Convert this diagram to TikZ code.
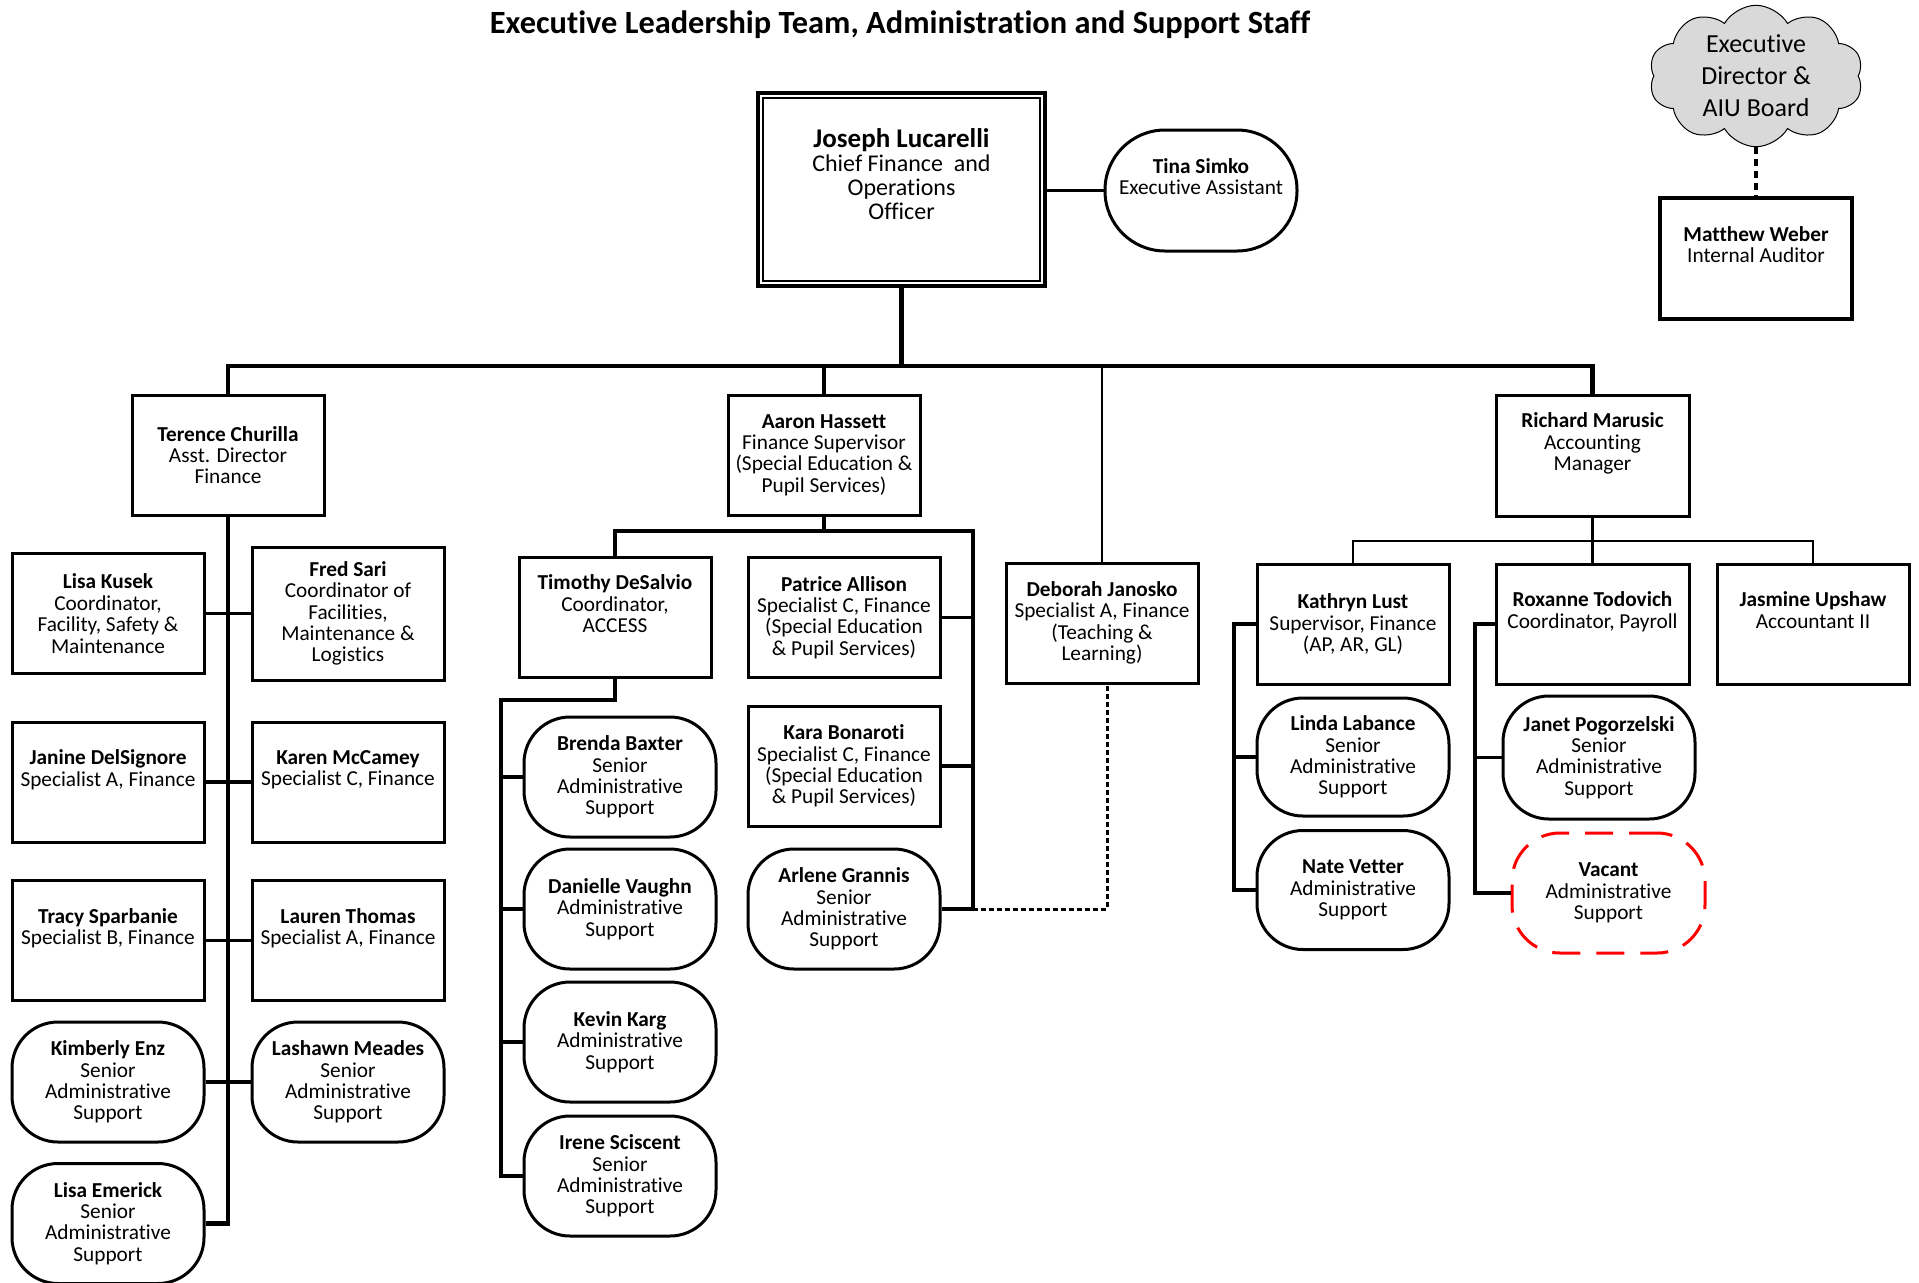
\documentclass[tikz,border=0pt]{standalone}
\usepackage{fontspec}
\setmainfont{Carlito}[Ligatures=NoCommon]
\usetikzlibrary{shapes.symbols}
\tikzset{
  box/.style={draw, line width=1.5pt, minimum width=96pt, minimum height=60pt, align=center, inner sep=1pt, font=\fontsize{10.65}{10.7}\selectfont},
  rbox/.style={box, rounded corners=23pt},
  vbox/.style={rbox, draw=red, dash pattern=on 14pt off 8pt, rounded corners=24pt},
  conn/.style={line width=1.8pt},
  thinconn/.style={line width=1.4pt},
  trunk/.style={line width=2.1pt},
  dotsline/.style={line width=1.5pt, dash pattern=on 2.3pt off 1.7pt},
  dotsbig/.style={line width=2pt, dash pattern=on 3.5pt off 2.5pt},
}
\newcommand{\xstrut}{\\\strut}
\begin{document}
\begin{tikzpicture}[x=0.5pt,y=-0.5pt]
\useasboundingbox (0,0) rectangle (1919,1282);

\node[font=\bfseries\fontsize{16.2}{18}\selectfont] (title) at (900,25) {Executive Leadership Team, Administration and Support Staff};

% top
\node[box, minimum width=143.5pt, minimum height=96.5pt, line width=2pt, font=\fontsize{12}{12}\selectfont] (jl) at (901.5,189.5)
  {{\fontsize{13.5}{12}\selectfont\bfseries Joseph Lucarelli}\\Chief Finance\ \ and\\Operations\\Officer\xstrut};
\draw[line width=0.9pt] ([shift={(3.5pt,-3.5pt)}]jl.north west) rectangle ([shift={(-3.5pt,3.5pt)}]jl.south east);
\node[rbox, rounded corners=30pt, minimum height=60.5pt] (ts) at (1201,190.5) {\textbf{Tina Simko}\\Executive Assistant\xstrut};
\draw[conn] (ts.west -| jl.east) -- (ts.west);

\node[cloud, draw, line width=0.5pt, fill=gray!30, cloud puffs=10, cloud puff arc=120, aspect=1.5, minimum width=107pt, minimum height=70pt, inner sep=0pt, align=center, font=\fontsize{13}{16}\selectfont] (cl) at (1756,76) {Executive\\Director \&\\AIU Board};
\node[box, line width=1.6pt, minimum height=60.5pt] (mw) at (1756,258.5) {\textbf{Matthew Weber}\\Internal Auditor\xstrut};
\draw[dotsbig] (cl.south) -- (mw.north);

% level 2
\node[box] (tc) at (228,455) {\textbf{Terence Churilla}\\Asst. Director\\Finance};
\node[box] (ah) at (824,455) {\textbf{Aaron Hassett}\\Finance Supervisor\\(Special Education \&\\Pupil Services)};
\node[box, minimum width=96.5pt, minimum height=60.5pt] (rm) at (1592.5,455.5) {\textbf{Richard Marusic}\\Accounting\\Manager\xstrut};
\node[box] (dj) at (1102,623) {\textbf{Deborah Janosko}\\Specialist A, Finance\\(Teaching \&\\Learning)};

\coordinate (bus) at (901.5,366);
\draw[trunk] (jl.south) -- (jl.south |- bus);
\draw[trunk] (tc.north) -- (tc.north |- bus) -- (rm.north |- bus) -- (rm.north);
\draw[conn] (ah.north) -- (ah.north |- bus);
\draw[thinconn] (dj.north) -- (dj.north |- bus);

% Terence group
\node[box] (lk) at (108,613.5) {\textbf{Lisa Kusek}\\Coordinator,\\Facility, Safety \&\\Maintenance};
\node[box, minimum height=66.5pt] (fs) at (348,613.5) {\textbf{Fred Sari}\\Coordinator of\\Facilities,\\Maintenance \&\\Logistics};
\node[box] (jd) at (108,782) {\textbf{Janine DelSignore}\\Specialist A, Finance\xstrut};
\node[box] (km) at (348,782) {\textbf{Karen McCamey}\\Specialist C, Finance\xstrut};
\node[box] (tsp) at (108,940.5) {\textbf{Tracy Sparbanie}\\Specialist B, Finance\xstrut};
\node[box] (lt) at (348,940.5) {\textbf{Lauren Thomas}\\Specialist A, Finance\xstrut};
\node[rbox] (ke) at (108,1082) {\textbf{Kimberly Enz}\\Senior\\Administrative\\Support};
\node[rbox] (lm) at (348,1082) {\textbf{Lashawn Meades}\\Senior\\Administrative\\Support};
\node[rbox] (le) at (108,1223.5) {\textbf{Lisa Emerick}\\Senior\\Administrative\\Support};

\draw[trunk] (tc.south) -- (tc.south |- le.east) -- (le.east);
\draw[conn] (lk.east) -- (fs.west);
\draw[conn] (jd.east) -- (km.west);
\draw[conn] (tsp.east) -- (lt.west);
\draw[conn] (ke.east) -- (lm.west);

% Aaron group
\node[box] (td) at (615,617.5) {\textbf{Timothy DeSalvio}\\Coordinator,\\ACCESS\xstrut};
\node[box] (pa) at (844,617.5) {\textbf{Patrice Allison}\\Specialist C, Finance\\(Special Education\\\& Pupil Services)};
\node[box] (kb) at (844,766) {\textbf{Kara Bonaroti}\\Specialist C, Finance\\(Special Education\\\& Pupil Services)};
\node[rbox] (ag) at (844,909) {\textbf{Arlene Grannis}\\Senior\\Administrative\\Support};

\node[rbox] (bb) at (620,777) {\textbf{Brenda Baxter}\\Senior\\Administrative\\Support};
\node[rbox] (dv) at (620,909) {\textbf{Danielle Vaughn}\\Administrative\\Support};
\node[rbox] (kk) at (620,1042) {\textbf{Kevin Karg}\\Administrative\\Support};
\node[rbox] (is) at (620,1176) {\textbf{Irene Sciscent}\\Senior\\Administrative\\Support};

\coordinate (ahb) at (973,531);
\draw[conn] (ah.south) -- (ah.south |- ahb);
\draw[conn] (td.north) -- (td.north |- ahb) -- (ahb) -- (ahb |- ag.east) -- (ag.east);
\draw[conn] (pa.east) -- (pa.east -| ahb);
\draw[conn] (kb.east) -- (kb.east -| ahb);
\draw[dotsline] (ag.east -| ahb) -| ([xshift=2.5pt]dj.south);

\coordinate (tdv) at (501,700);
\draw[conn] (td.south) -- (td.south |- tdv) -- (tdv) -- (tdv |- is.west) -- (is.west);
\draw[conn] (tdv |- bb.west) -- (bb.west);
\draw[conn] (tdv |- dv.west) -- (dv.west);
\draw[conn] (tdv |- kk.west) -- (kk.west);

% Richard group
\node[box] (kl) at (1353,624) {\textbf{Kathryn Lust}\\Supervisor, Finance\\(AP, AR, GL)};
\node[box, minimum width=96.5pt] (rt) at (1592.5,624) {\textbf{Roxanne Todovich}\\Coordinator, Payroll\xstrut};
\node[box] (ju) at (1813,624) {\textbf{Jasmine Upshaw}\\Accountant II\xstrut};
\node[rbox, minimum height=59pt] (ll) at (1353,757) {\textbf{Linda Labance}\\Senior\\Administrative\\Support};
\node[rbox, minimum height=59.5pt] (nv) at (1353,890) {\textbf{Nate Vetter}\\Administrative\\Support};
\node[rbox, minimum height=61.5pt] (jp) at (1599,757.5) {\textbf{Janet Pogorzelski}\\Senior\\Administrative\\Support};
\node[vbox, minimum width=96.5pt] (va) at (1608.5,893) {\textbf{Vacant}\\Administrative\\Support};

\coordinate (rmb) at (1592.5,541);
\draw[thinconn] (rm.south) -- (rm.south |- rmb);
\draw[thinconn] (kl.north) -- (kl.north |- rmb) -- (ju.north |- rmb) -- (ju.north);
\draw[thinconn] (rt.north) -- (rt.north |- rmb);

\coordinate (klv) at (1234,624);
\draw[conn] (kl.west) -- (klv) -- (klv |- nv.west) -- (nv.west);
\draw[conn] (klv |- ll.west) -- (ll.west);
\coordinate (rtv) at (1475,624);
\draw[conn] (rt.west) -- (rtv) -- (rtv |- va.west) -- (va.west);
\draw[conn] (rtv |- jp.west) -- (jp.west);
\end{tikzpicture}
\end{document}
